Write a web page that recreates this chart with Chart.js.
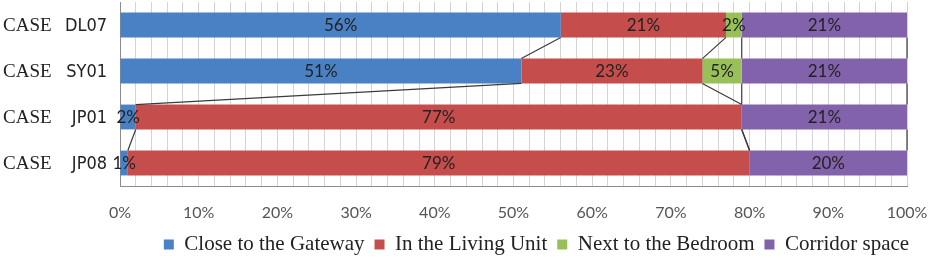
<!DOCTYPE html>
<html>
<head>
<meta charset="utf-8">
<script src="https://cdn.jsdelivr.net/npm/chart.js@4/dist/chart.umd.min.js"></script>
<style>
  html, body { margin: 0; padding: 0; background: #fff; }
  #wrap { width: 932px; height: 260px; }
</style>
</head>
<body>
<div id="wrap"><canvas id="chart" width="932" height="260"></canvas></div>
<script>
const categories = ["CASE DL07", "CASE SY01", "CASE JP01", "CASE JP08"];
const gateway  = [56, 51, 2, 1];
const living   = [21, 23, 77, 79];
const bedroom  = [2, 5, 0, 0];
const corridor = [21, 21, 21, 20];
const seriesNames = ["Close to the Gateway", "In the Living Unit", "Next to the Bedroom", "Corridor space"];
const seriesColors = ["#4a80c4", "#c54e4c", "#99bf58", "#8263ab"];

const serif = '"Liberation Serif", "DejaVu Serif", serif';
const sans = 'Lato, "Open Sans", sans-serif';

// series lines between neighbouring bars, like Excel draws them
const seriesLines = {
  id: 'seriesLines',
  afterDatasetsDraw(chart) {
    const c = chart.ctx;
    c.save();
    c.strokeStyle = '#3a3a3a';
    c.lineWidth = 1.2;
    chart.data.datasets.forEach((ds, i) => {
      const bars = chart.getDatasetMeta(i).data;
      for (let j = 0; j < bars.length - 1; j++) {
        const a = bars[j], b = bars[j + 1];
        c.beginPath();
        c.moveTo(a.x, a.y + a.height / 2);
        c.lineTo(b.x, b.y - b.height / 2);
        c.stroke();
      }
    });
    c.restore();
  }
};

// percentage labels in the middle of each segment
const segLabels = {
  id: 'segLabels',
  afterDatasetsDraw(chart) {
    const c = chart.ctx;
    c.save();
    c.font = '17px ' + sans;
    c.fillStyle = '#222';
    c.textAlign = 'center';
    c.textBaseline = 'middle';
    chart.data.datasets.forEach((ds, i) => {
      chart.getDatasetMeta(i).data.forEach((bar, j) => {
        const v = ds.data[j];
        if (!v) return;
        c.fillText(v + '%', (bar.x + bar.base) / 2, bar.y + 1);
      });
    });
    c.restore();
  }
};

// category names: "CASE" in serif, the code in a narrow sans
const caseLabels = {
  id: 'caseLabels',
  afterDraw(chart) {
    const c = chart.ctx;
    const y = chart.scales.y;
    c.save();
    c.fillStyle = '#222';
    c.textBaseline = 'middle';
    categories.forEach((cat, j) => {
      const parts = cat.split(' ');
      const yy = y.getPixelForValue(j) + 1;
      c.font = '19px ' + serif;
      c.textAlign = 'left';
      c.fillText(parts[0], 3, yy);
      c.font = '18px "Liberation Sans Narrow", "DejaVu Sans Condensed", sans-serif';
      c.textAlign = 'right';
      c.fillText(parts[1], 107, yy);
    });
    c.restore();
  }
};

// short legend strip, shifted right like the original
const legendTweak = {
  id: 'legendTweak',
  afterInit(chart) {
    const lg = chart.legend;
    const fit = lg.fit;
    const draw = lg.draw;
    lg.fit = function () {
      fit.call(this);
      this.height = 36;
    };
    lg.draw = function () {
      const c = this.ctx;
      c.save();
      c.translate(73, 0);
      draw.call(this);
      c.restore();
    };
  }
};

const datasets = [gateway, living, bedroom, corridor].map((d, i) => ({
  label: seriesNames[i],
  data: d,
  backgroundColor: seriesColors[i],
  borderWidth: 0,
  categoryPercentage: 1,
  barPercentage: 0.54
}));

new Chart(document.getElementById('chart'), {
  type: 'bar',
  data: { labels: categories, datasets: datasets },
  plugins: [seriesLines, segLabels, caseLabels, legendTweak],
  options: {
    indexAxis: 'y',
    responsive: false,
    animation: false,
    layout: { padding: { left: 0, right: 5, top: 2, bottom: 0 } },
    plugins: {
      tooltip: { enabled: false },
      legend: {
        position: 'bottom',
        labels: {
          boxWidth: 10,
          boxHeight: 10,
          padding: 10,
          color: '#222',
          font: { family: serif, size: 21 }
        }
      }
    },
    scales: {
      x: {
        stacked: true,
        min: 0,
        max: 100,
        grid: { color: '#d4d4d4', drawTicks: false },
        border: { color: '#8c8c8c' },
        ticks: {
          stepSize: 2,
          autoSkip: false,
          maxRotation: 0,
          padding: 17,
          color: '#555',
          font: { family: sans, size: 16 },
          callback: v => (v % 10 === 0 ? v + '%' : '')
        },
        afterFit: s => {
          s.height = 38;
          s.paddingRight = 25;
          s.paddingLeft = 10;
        }
      },
      y: {
        stacked: true,
        grid: { display: false },
        border: { color: '#8c8c8c' },
        ticks: { display: false },
        afterFit: s => { s.width = 120; }
      }
    }
  }
});
</script>
</body>
</html>
